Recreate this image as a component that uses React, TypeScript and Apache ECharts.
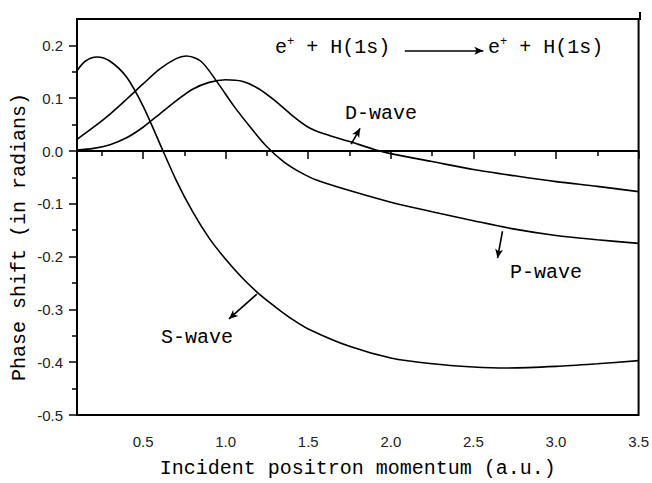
import React, { useEffect, useRef } from "react";
import * as echarts from "echarts";

const xMajor = [0.5, 1.0, 1.5, 2.0, 2.5, 3.0, 3.5];
const xMinor = [0.25, 0.75, 1.25, 1.75, 2.25, 2.75, 3.25];
const yMajor = [-0.5, -0.4, -0.3, -0.2, -0.1, 0.0, 0.1, 0.2];
const yMinor = [-0.45, -0.35, -0.25, -0.15, -0.05, 0.05, 0.15];

const sX = [0.1, 0.15, 0.22, 0.3, 0.4, 0.5, 0.6, 0.7, 0.8, 0.9, 1.0, 1.1, 1.2, 1.3, 1.4, 1.5, 1.75, 2.0, 2.25, 2.5, 2.7, 3.0, 3.25, 3.5];
const sY = [0.152, 0.17, 0.178, 0.17, 0.14, 0.085, 0.015, -0.055, -0.115, -0.165, -0.205, -0.24, -0.27, -0.295, -0.318, -0.337, -0.37, -0.392, -0.403, -0.409, -0.411, -0.408, -0.403, -0.397];

const pX = [0.1, 0.2, 0.3, 0.4, 0.5, 0.6, 0.7, 0.76, 0.85, 0.95, 1.05, 1.15, 1.25, 1.35, 1.45, 1.55, 1.75, 2.0, 2.25, 2.5, 2.75, 3.0, 3.25, 3.5];
const pY = [0.022, 0.045, 0.07, 0.098, 0.127, 0.155, 0.175, 0.18, 0.17, 0.13, 0.085, 0.045, 0.008, -0.02, -0.04, -0.055, -0.075, -0.097, -0.115, -0.132, -0.148, -0.16, -0.168, -0.175];

const dX = [0.1, 0.2, 0.3, 0.4, 0.5, 0.6, 0.7, 0.8, 0.9, 1.0, 1.1, 1.2, 1.3, 1.4, 1.5, 1.6, 1.75, 1.9, 2.0, 2.25, 2.5, 2.75, 3.0, 3.25, 3.5];
const dY = [0.002, 0.005, 0.012, 0.025, 0.045, 0.07, 0.095, 0.117, 0.13, 0.135, 0.132, 0.118, 0.095, 0.068, 0.045, 0.032, 0.018, 0.003, -0.005, -0.02, -0.035, -0.047, -0.058, -0.067, -0.077];

const MONO = "'Liberation Mono', 'DejaVu Sans Mono', monospace";
const SANS = "'Liberation Sans', Arial, sans-serif";

function pairs(xs: number[], ys: number[]) {
  return xs.map((x, i) => [x, ys[i]]);
}

function arrow(from: number[], to: number[]) {
  return [
    { coord: from, symbol: "none" },
    { coord: to, symbol: "arrow", symbolSize: [6, 9] },
  ];
}

export default function App() {
  const ref = useRef<HTMLDivElement>(null);
  useEffect(() => {
    if (!ref.current) return;
    const chart = echarts.init(ref.current, null, { renderer: "svg" });
    const lineStyle = { color: "#000", width: 1.6 };
    const axisLineStyle = { color: "#000", width: 2 };
    chart.setOption({
      animation: false,
      backgroundColor: "#fff",
      grid: {
        left: 77,
        right: 12,
        top: 19,
        bottom: 60,
        show: true,
        borderColor: "#000",
        borderWidth: 2,
      },
      xAxis: [
        {
          type: "value",
          min: 0.1,
          max: 3.5,
          position: "bottom",
          axisLine: { lineStyle: axisLineStyle },
          axisTick: { customValues: xMajor, length: 8, lineStyle: { color: "#000", width: 1.5 } },
          axisLabel: {
            customValues: xMajor,
            formatter: (v: number) => v.toFixed(1),
            margin: 19,
            fontFamily: SANS,
            fontSize: 15,
            color: "#222",
          },
          splitLine: { show: false },
          name: "Incident positron momentum (a.u.)",
          nameLocation: "middle",
          nameGap: 43,
          nameTextStyle: { fontFamily: MONO, fontSize: 20, color: "#000" },
        },
        {
          type: "value",
          min: 0.1,
          max: 3.5,
          position: "bottom",
          axisLine: { show: false },
          axisTick: { customValues: xMinor, length: 5, lineStyle: { color: "#000", width: 1.5 } },
          axisLabel: { show: false },
          splitLine: { show: false },
        },
      ],
      yAxis: [
        {
          type: "value",
          min: -0.5,
          max: 0.25,
          axisLine: { show: true, lineStyle: axisLineStyle },
          axisTick: { show: true, customValues: yMajor, length: 8, lineStyle: { color: "#000", width: 1.5 } },
          axisLabel: {
            customValues: yMajor,
            formatter: (v: number) => v.toFixed(1),
            margin: 14,
            fontFamily: SANS,
            fontSize: 15,
            color: "#222",
          },
          splitLine: { show: false },
        },
        {
          type: "value",
          min: -0.5,
          max: 0.25,
          position: "left",
          axisLine: { show: false },
          axisTick: { show: true, customValues: yMinor, length: 5, lineStyle: { color: "#000", width: 1.5 } },
          axisLabel: { show: false },
          splitLine: { show: false },
        },
      ],
      series: [
        {
          type: "line",
          name: "S-wave",
          data: pairs(sX, sY),
          smooth: 0.3,
          showSymbol: false,
          lineStyle,
          markLine: {
            silent: true,
            symbol: "none",
            label: { show: false },
            lineStyle: { color: "#000", width: 1.6, type: "solid" },
            data: [
              [{ coord: [0.1, 0], symbol: "none" }, { coord: [3.5, 0], symbol: "none" }],
              arrow([1.189, -0.271], [1.02, -0.318]),
              arrow([1.76, 0.013], [1.814, 0.043]),
              arrow([2.676, -0.152], [2.646, -0.203]),
              arrow([2.085, 0.19], [2.56, 0.19]),
            ],
          },
        },
        { type: "line", name: "P-wave", data: pairs(pX, pY), smooth: 0.3, showSymbol: false, lineStyle },
        { type: "line", name: "D-wave", data: pairs(dX, dY), smooth: 0.3, showSymbol: false, lineStyle },
      ],
      graphic: [
        { type: "line", shape: { x1: 640, y1: 12, x2: 640, y2: 20 }, style: { stroke: "#000", lineWidth: 2 } },
        {
          type: "text",
          x: 19,
          y: 237,
          rotation: Math.PI / 2,
          style: {
            text: "Phase shift (in radians)",
            font: `20px ${MONO}`,
            fill: "#000",
            align: "center",
            verticalAlign: "middle",
          },
        },
        { type: "text", x: 197, y: 337, style: { text: "S-wave", font: `20px ${MONO}`, fill: "#000", align: "center", verticalAlign: "middle" } },
        { type: "text", x: 381, y: 113, style: { text: "D-wave", font: `20px ${MONO}`, fill: "#000", align: "center", verticalAlign: "middle" } },
        { type: "text", x: 546, y: 272, style: { text: "P-wave", font: `20px ${MONO}`, fill: "#000", align: "center", verticalAlign: "middle" } },
        {
          type: "text",
          x: 275,
          y: 47,
          style: {
            rich: {
              b: { font: `20px ${MONO}`, fill: "#000" },
              s: { font: `12px ${MONO}`, fill: "#000", verticalAlign: "top", padding: [0, 0, 10, 0] },
            },
            text: "{b|e}{s|+}{b| + H(1s)}",
            verticalAlign: "middle",
          },
        },
        {
          type: "text",
          x: 488,
          y: 47,
          style: {
            rich: {
              b: { font: `20px ${MONO}`, fill: "#000" },
              s: { font: `12px ${MONO}`, fill: "#000", verticalAlign: "top", padding: [0, 0, 10, 0] },
            },
            text: "{b|e}{s|+}{b| + H(1s)}",
            verticalAlign: "middle",
          },
        },
      ],
    });
    return () => chart.dispose();
  }, []);
  return <div ref={ref} style={{ position: "absolute", left: 0, top: 0, width: 652, height: 483 }} />;
}
